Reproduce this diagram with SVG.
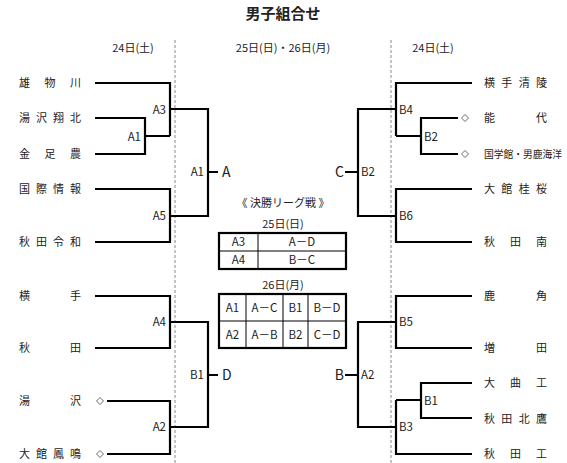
<svg xmlns="http://www.w3.org/2000/svg" width="567" height="463" viewBox="0 0 567 463">
<style>
text{font-family:"Noto Sans CJK JP","Noto Sans",sans-serif;fill:#222;font-size:11px}
.title{font-size:15px;font-weight:bold}
.ln{fill:none;stroke:#000;stroke-width:2.2}
.dash{stroke:#888;stroke-width:1;stroke-dasharray:3,2;fill:none}
.lbl{font-size:11.5px}
.big{font-size:14px}
.end{text-anchor:end}
.mid{text-anchor:middle}
.dia{fill:#fff;stroke:#444;stroke-width:0.8}
.tb{fill:none;stroke:#000;stroke-width:2.2}
.ti{stroke:#000;stroke-width:1}
</style>
<rect width="567" height="463" fill="#fff"/>
<text class="title mid" x="283" y="19">男子組合せ</text>
<text class="mid" x="133" y="52">24日(土)</text>
<text class="mid" x="283" y="52">25日(日)・26日(月)</text>
<text class="mid" x="433" y="52">24日(土)</text>
<g id="dividers">
<line class="dash" x1="175" y1="40" x2="175" y2="463"/>
<line class="dash" x1="391" y1="40" x2="391" y2="463"/>
</g>
<g id="teams-left">
<text x="19" y="87" textLength="62" lengthAdjust="spacing">雄物川</text>
<text x="19" y="122" textLength="62" lengthAdjust="spacing">湯沢翔北</text>
<text x="19" y="158" textLength="62" lengthAdjust="spacing">金足農</text>
<text x="19" y="193" textLength="62" lengthAdjust="spacing">国際情報</text>
<text x="19" y="246" textLength="62" lengthAdjust="spacing">秋田令和</text>
<text x="19" y="300" textLength="62" lengthAdjust="spacing">横手</text>
<text x="19" y="352" textLength="62" lengthAdjust="spacing">秋田</text>
<text x="19" y="405" textLength="62" lengthAdjust="spacing">湯沢</text>
<text x="19" y="458" textLength="62" lengthAdjust="spacing">大館鳳鳴</text>
</g>
<g id="teams-right">
<text x="484" y="87" textLength="63" lengthAdjust="spacing">横手清陵</text>
<text x="484" y="122" textLength="63" lengthAdjust="spacing">能代</text>
<text x="484" y="158" style="font-size:9.8px" textLength="78" lengthAdjust="spacingAndGlyphs">国学館・男鹿海洋</text>
<text x="484" y="193" textLength="63" lengthAdjust="spacing">大館桂桜</text>
<text x="484" y="246" textLength="63" lengthAdjust="spacing">秋田南</text>
<text x="484" y="300" textLength="63" lengthAdjust="spacing">鹿角</text>
<text x="484" y="352" textLength="63" lengthAdjust="spacing">増田</text>
<text x="484" y="387" textLength="63" lengthAdjust="spacing">大曲工</text>
<text x="484" y="423" textLength="63" lengthAdjust="spacing">秋田北鷹</text>
<text x="484" y="458" textLength="63" lengthAdjust="spacing">秋田工</text>
</g>
<g id="connectors">
<path class="ln" d="M95,83H170V136M95,118H145V154H95M145,136H170"/>
<path class="ln" d="M170,109H208V216H170M208,172H218"/>
<path class="ln" d="M95,189H170V242H95"/>
<path class="ln" d="M95,296H170V348H95"/>
<path class="ln" d="M107,401H170V454H107"/>
<path class="ln" d="M170,322H208V427H170M208,375H218"/>
<path class="ln" d="M472,83H396V136M458,118H421V154H458M421,136H396"/>
<path class="ln" d="M396,109H358V216H396M358,172H345"/>
<path class="ln" d="M472,189H396V242H472"/>
<path class="ln" d="M472,296H396V348H472"/>
<path class="ln" d="M472,383H421V418H472M421,400H396"/>
<path class="ln" d="M472,454H396V400"/>
<path class="ln" d="M396,322H358V427H396M358,375H345"/>
</g>
<g id="diamonds">
<path class="dia" d="M100,397.5L103.5,401L100,404.5L96.5,401Z"/>
<path class="dia" d="M100,450.5L103.5,454L100,457.5L96.5,454Z"/>
<path class="dia" d="M465,114.5L468.5,118L465,121.5L461.5,118Z"/>
<path class="dia" d="M465,150.5L468.5,154L465,157.5L461.5,154Z"/>
</g>
<g id="match-labels">
<text class="lbl end" x="141" y="141">A1</text>
<text class="lbl end" x="166" y="114">A3</text>
<text class="lbl end" x="166" y="220">A5</text>
<text class="lbl end" x="166" y="326">A4</text>
<text class="lbl end" x="166" y="431">A2</text>
<text class="lbl end" x="204" y="176">A1</text>
<text class="big" x="222" y="177">A</text>
<text class="lbl end" x="204" y="379">B1</text>
<text class="big" x="222" y="380">D</text>
<text class="lbl" x="399" y="114">B4</text>
<text class="lbl" x="424" y="141">B2</text>
<text class="lbl" x="399" y="220">B6</text>
<text class="lbl" x="399" y="326">B5</text>
<text class="lbl" x="424" y="405">B1</text>
<text class="lbl" x="399" y="431">B3</text>
<text class="lbl" x="361" y="176">B2</text>
<text class="big end" x="344" y="177">C</text>
<text class="lbl" x="361" y="379">A2</text>
<text class="big end" x="344" y="380">B</text>
</g>
<g id="final-league">
<text class="mid" x="283" y="207">《 決勝リーグ戦 》</text>
<text class="mid" x="283" y="228">25日(日)</text>
<rect class="tb" x="219" y="233" width="127" height="36"/>
<line class="ti" x1="219" y1="251" x2="346" y2="251"/>
<line class="ti" x1="258" y1="233" x2="258" y2="269"/>
<text class="lbl mid" x="238.5" y="246">A3</text>
<text class="lbl mid" x="302" y="246">A－D</text>
<text class="lbl mid" x="238.5" y="264">A4</text>
<text class="lbl mid" x="302" y="264">B－C</text>
<text class="mid" x="283" y="289">26日(月)</text>
<rect class="tb" x="219" y="294" width="127" height="54"/>
<line class="ti" x1="219" y1="321" x2="346" y2="321"/>
<line class="ti" x1="246" y1="294" x2="246" y2="348"/>
<line class="ti" x1="283" y1="294" x2="283" y2="348"/>
<line class="ti" x1="308" y1="294" x2="308" y2="348"/>
<text class="lbl mid" x="232.5" y="312">A1</text>
<text class="lbl mid" x="264.5" y="312">A－C</text>
<text class="lbl mid" x="295.5" y="312">B1</text>
<text class="lbl mid" x="327" y="312">B－D</text>
<text class="lbl mid" x="232.5" y="339">A2</text>
<text class="lbl mid" x="264.5" y="339">A－B</text>
<text class="lbl mid" x="295.5" y="339">B2</text>
<text class="lbl mid" x="327" y="339">C－D</text>
</g>
</svg>
